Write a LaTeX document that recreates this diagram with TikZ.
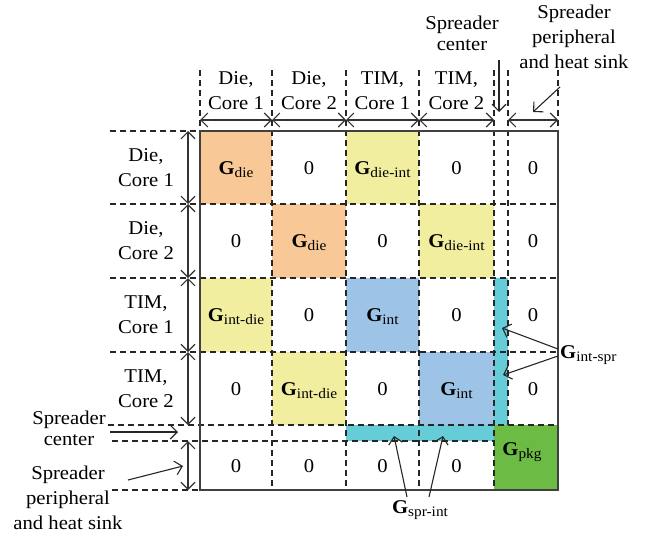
\documentclass[tikz,border=0pt]{standalone}
\usepackage{fontspec}
\setmainfont[FakeStretch=1.06]{Liberation Serif}
\usetikzlibrary{arrows.meta}
\newcommand{\Gsub}[1]{\textbf{G}\raisebox{-3.5pt}{\fontsize{14.5}{15}\selectfont #1}}
\definecolor{corange}{RGB}{248,200,150}
\definecolor{cyellow}{RGB}{242,238,160}
\definecolor{cblue}{RGB}{157,195,230}
\definecolor{ccyan}{RGB}{102,204,216}
\definecolor{cgreen}{RGB}{108,187,69}
\begin{document}
\begin{tikzpicture}[x=1pt,y=-1pt,
  gridl/.style={dash pattern=on 6pt off 4pt, line width=1.1pt, black!85},
  border/.style={line width=1.3pt, black!75},
  tip/.tip={Straight Barb[length=7pt,width=14pt]},
  dim/.style={line width=1.1pt, black!80, tip-tip},
  ptr/.style={line width=1.1pt, black!85, -tip},
  lbl/.style={font=\fontsize{19.5}{25}\selectfont, align=center, inner sep=0pt},
  lbls/.style={font=\fontsize{19.5}{21}\selectfont, align=center, inner sep=0pt},
  cell/.style={font=\fontsize{19.5}{25}\selectfont, inner sep=0pt, anchor=base},
]
\useasboundingbox (0,0) rectangle (647,535);

% fills
\fill[corange] (200,131) rectangle (272,204);
\fill[corange] (272,204) rectangle (346,278);
\fill[cyellow] (346,131) rectangle (419,204);
\fill[cyellow] (419,204) rectangle (494,278);
\fill[cyellow] (200,278) rectangle (272,352);
\fill[cyellow] (272,352) rectangle (346,425);
\fill[cblue] (346,278) rectangle (419,352);
\fill[cblue] (419,352) rectangle (494,425);
\fill[ccyan] (494,278) rectangle (508,425);
\fill[ccyan] (346,425) rectangle (494,441);
\fill[cgreen] (494,425) rectangle (558,490);

% dashed grid and extension lines
\draw[gridl] (200,70) -- (200,131);
\draw[gridl] (272,70) -- (272,490);
\draw[gridl] (346,70) -- (346,490);
\draw[gridl] (419,70) -- (419,490);
\draw[gridl] (494,70) -- (494,490);
\draw[gridl] (508,70) -- (508,425);
\draw[gridl] (558,70) -- (558,131);
\draw[gridl] (110,131) -- (200,131);
\draw[gridl] (110,204) -- (558,204);
\draw[gridl] (110,278) -- (558,278);
\draw[gridl] (110,352) -- (558,352);
\draw[gridl] (108,425) -- (558,425);
\draw[gridl] (112,441) -- (494,441);
\draw[gridl] (112,490) -- (200,490);

% border
\draw[border] (200,131) rectangle (558,490);

% coordinates for dimension arrows
\coordinate (t0) at (200,120); \coordinate (t1) at (272,120);
\coordinate (t2) at (346,120); \coordinate (t3) at (419,120);
\coordinate (t4) at (494,120); \coordinate (t5) at (508,120);
\coordinate (t6) at (558,120);
\coordinate (l0) at (188,131); \coordinate (l1) at (188,204);
\coordinate (l2) at (188,278); \coordinate (l3) at (188,352);
\coordinate (l4) at (188,425); \coordinate (l5) at (188,441);
\coordinate (l6) at (188,490);

\draw[dim] (t0) -- (t1);
\draw[dim] (t1) -- (t2);
\draw[dim] (t2) -- (t3);
\draw[dim] (t3) -- (t4);
\draw[dim] (t5) -- (t6);
\draw[dim] (l0) -- (l1);
\draw[dim] (l1) -- (l2);
\draw[dim] (l2) -- (l3);
\draw[dim] (l3) -- (l4);
\draw[dim] (l5) -- (l6);

% header labels
\node[lbl] (hc1) at (236,91) {Die,\\Core 1};
\node[lbl] (hc2) at (309,91) {Die,\\Core 2};
\node[lbl] (hc3) at (382.5,91) {TIM,\\Core 1};
\node[lbl] (hc4) at (456.5,91) {TIM,\\Core 2};
\node[lbls] (hc5) at (462,33) {Spreader\\center};
\node[lbl] (hc6) at (574,37) {Spreader\\peripheral\\and heat sink};

\node[lbl] (hr1) at (146,168) {Die,\\Core 1};
\node[lbl] (hr2) at (146,241) {Die,\\Core 2};
\node[lbl] (hr3) at (146,315) {TIM,\\Core 1};
\node[lbl] (hr4) at (146,389) {TIM,\\Core 2};
\node[lbls] (hr5) at (69,428) {Spreader\\center};
\node[lbl] (hr6) at (68,498) {Spreader\\peripheral\\and heat sink};

% pointer arrows for spreader labels
\coordinate (a1s) at (499,60); \coordinate (a1e) at (499,112);
\coordinate (a2s) at (560,87); \coordinate (a2e) at (533,112);
\coordinate (a3s) at (110,432); \coordinate (a3e) at (178,432);
\coordinate (a4s) at (128,480); \coordinate (a4e) at (183,466);
\draw[ptr] (a1s) -- (a1e);
\draw[ptr] (a2s) -- (a2e);
\draw[ptr] (a3s) -- (a3e);
\draw[ptr] (a4s) -- (a4e);

% cell contents
\node[cell] (c11) at (236,174) {\Gsub{die}};
\node[cell] (c12) at (309,174) {0};
\node[cell] (c13) at (382.5,174) {\Gsub{die-int}};
\node[cell] (c14) at (456.5,174) {0};
\node[cell] (c15) at (533,174) {0};

\node[cell] (c21) at (236,247.4) {0};
\node[cell] (c22) at (309,247.4) {\Gsub{die}};
\node[cell] (c23) at (382.5,247.4) {0};
\node[cell] (c24) at (456.5,247.4) {\Gsub{die-int}};
\node[cell] (c25) at (533,247.4) {0};

\node[cell] (c31) at (236,321.4) {\Gsub{int-die}};
\node[cell] (c32) at (309,321.4) {0};
\node[cell] (c33) at (382.5,321.4) {\Gsub{int}};
\node[cell] (c34) at (456.5,321.4) {0};
\node[cell] (c35) at (533,321.4) {0};

\node[cell] (c41) at (236,395) {0};
\node[cell] (c42) at (309,395) {\Gsub{int-die}};
\node[cell] (c43) at (382.5,395) {0};
\node[cell] (c44) at (456.5,395) {\Gsub{int}};
\node[cell] (c45) at (533,395) {0};

\node[cell] (c61) at (236,472) {0};
\node[cell] (c62) at (309,472) {0};
\node[cell] (c63) at (382.5,472) {0};
\node[cell] (c64) at (456.5,472) {0};
\node[cell] (pkg) at (522,455.4) {\Gsub{pkg}};

% G_int-spr and G_spr-int labels
\node[cell, anchor=base west] (gis) at (560,358) {\Gsub{int-spr}};
\node[cell] (gsi) at (420,513) {\Gsub{spr-int}};
\coordinate (gis1) at (558,349); \coordinate (gis2) at (558,356);
\coordinate (gisA) at (502,328); \coordinate (gisB) at (503,375);
\draw[ptr] (gis1) -- (gisA);
\draw[ptr] (gis2) -- (gisB);
\coordinate (gsi1) at (407,497); \coordinate (gsi2) at (429,497);
\coordinate (gsiA) at (394,436); \coordinate (gsiB) at (443,436);
\draw[ptr] (gsi1) -- (gsiA);
\draw[ptr] (gsi2) -- (gsiB);
\end{tikzpicture}
\end{document}
